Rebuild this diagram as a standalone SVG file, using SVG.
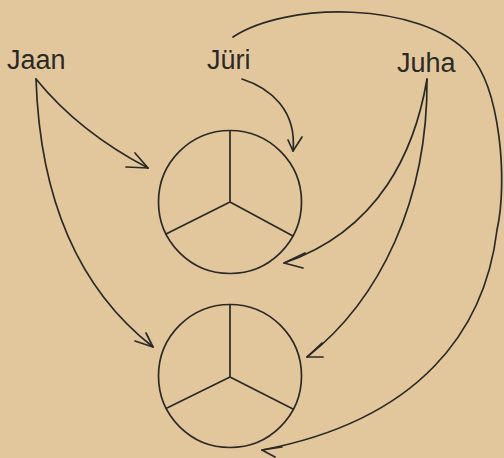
<svg xmlns="http://www.w3.org/2000/svg" width="504" height="458" viewBox="0 0 504 458">
<style>
.bg{fill:#e3c79c}
.ln{fill:none;stroke:#2a2a26;stroke-width:1.7;stroke-linecap:round;stroke-linejoin:round}
.lbl{font-family:"Liberation Sans",Arial,sans-serif;font-size:27px;fill:#2a2a26}
</style>
<rect class="bg" x="0" y="0" width="504" height="458"/>
<g id="jaan"><text class="lbl" x="7" y="69">Jaan</text></g>
<g id="juri"><text class="lbl" x="207" y="69">Jüri</text></g>
<g id="juha"><text class="lbl" x="397" y="72">Juha</text></g>
<g id="circle1">
<circle class="ln" cx="230" cy="202" r="71.5"/>
<path class="ln" d="M230 131 L230 202 M230 202 L166 234 M230 202 L293 236"/>
</g>
<g id="circle2">
<circle class="ln" cx="230" cy="376" r="71.5"/>
<path class="ln" d="M230 304.5 L230 377 M230 377 L167 408 M230 377 L293 409"/>
</g>
<g id="connectors">
<path class="ln" d="M36 79 Q79 132 148 168"/>
<path class="ln" d="M135 153 L148 168 L126 167"/>
<path class="ln" d="M36 79 C40 200 80 290 153 347"/>
<path class="ln" d="M146 333 L153 347 L135 341"/>
<path class="ln" d="M242 79 C270 88 297 110 293 151"/>
<path class="ln" d="M288 140 L293 151 L302 137"/>
<path class="ln" d="M427 79 C415 150 380 230 284 263"/>
<path class="ln" d="M305 253 L284 263 L303 268"/>
<path class="ln" d="M427 79 C428 200 380 300 307 357"/>
<path class="ln" d="M322 343 L307 357 L323 357"/>
<path class="ln" d="M233 37 C285 2 420 0 470 55 C500 88 508 180 497 230 C485 330 420 420 262 450"/>
<path class="ln" d="M282 447 L262 450 L275 457"/>
</g>
</svg>
